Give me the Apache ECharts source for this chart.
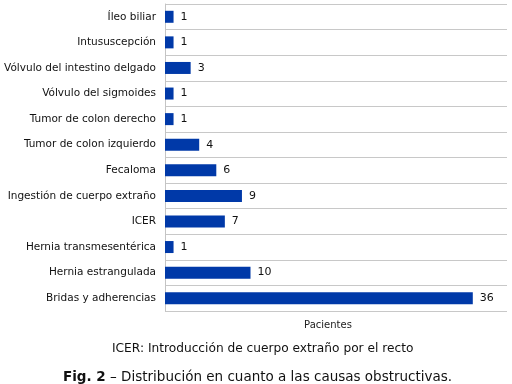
<!DOCTYPE html>
<html><head><meta charset="utf-8">
<script src="https://cdn.jsdelivr.net/npm/echarts@6/dist/echarts.min.js"></script>
<style>html,body{margin:0;padding:0;background:#fff}#c{width:512px;height:384px}</style>
</head><body><div id="c"></div>
<script>
var categories = ["Íleo biliar","Intususcepción","Vólvulo del intestino delgado","Vólvulo del sigmoides","Tumor de colon derecho","Tumor de colon izquierdo","Fecaloma","Ingestión de cuerpo extraño","ICER","Hernia transmesentérica","Hernia estrangulada","Bridas y adherencias"];
var pacientes = [1,1,3,1,1,4,6,9,7,1,10,36];
var axisName = "Pacientes";
var note = "ICER: Introducción de cuerpo extraño por el recto";
var figLabel = "Fig. 2";
var figText = " – Distribución en cuanto a las causas obstructivas.";
var F = "DejaVu Sans, Verdana, sans-serif";
var chart = echarts.init(document.getElementById('c'), null, {renderer:'canvas'});
chart.setOption({
  animation:false,
  backgroundColor:'#fff',
  grid:{left:165,right:5,top:4,bottom:73,containLabel:false},
  xAxis:{type:'value',min:0,max:40,axisLine:{show:false},axisTick:{show:false},axisLabel:{show:false},splitLine:{show:false},
    name:axisName,nameLocation:'middle',nameGap:9,nameTextStyle:{fontFamily:F,fontSize:10,color:'#222',padding:[0,16,0,0]}},
  yAxis:{type:'category',inverse:true,data:categories,
    axisLine:{show:true,lineStyle:{color:'#c4c4c4',width:1}},axisTick:{show:false},
    axisLabel:{fontFamily:F,fontSize:10.5,color:'#111',margin:9},
    splitLine:{show:true,lineStyle:{color:'#c8c8c8',width:1}}},
  series:[{type:'bar',data:pacientes,barWidth:12,itemStyle:{color:'#0039a8'},
    label:{show:true,position:'right',distance:7,fontFamily:F,fontSize:11,color:'#111'}}],
  title:[
    {text:note,left:107,top:338,textStyle:{fontFamily:F,fontSize:12.2,fontWeight:'normal',color:'#111'}},
    {text:'{b|'+figLabel+'}'+figText,left:58,top:365,textStyle:{fontFamily:F,fontSize:13.5,fontWeight:'normal',color:'#111',rich:{b:{fontFamily:F,fontSize:13.5,fontWeight:'bold',color:'#111'}}}}
  ]
});
</script></body></html>
